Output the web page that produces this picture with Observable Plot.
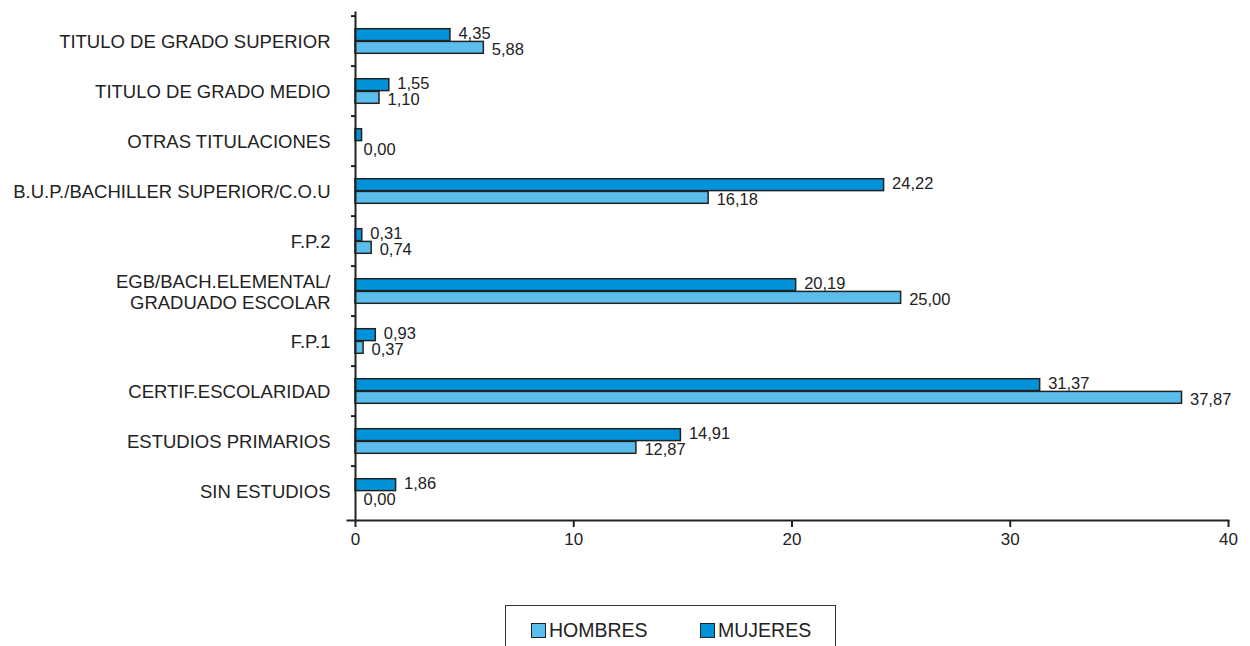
<!DOCTYPE html>
<html>
<head>
<meta charset="utf-8">
<script src="https://cdn.jsdelivr.net/npm/d3@7"></script>
<script src="https://cdn.jsdelivr.net/npm/@observablehq/plot@0.6"></script>
<style>
  html, body { margin: 0; padding: 0; background: #fff; }
  body { width: 1250px; height: 646px; overflow: hidden; font-family: "Liberation Sans", Arial, sans-serif; }
  #legend {
    position: absolute; left: 505px; top: 605px; width: 331px; height: 60px;
    border: 1px solid #333; box-sizing: border-box;
  }
  .item { position: absolute; top: 14px; display: flex; align-items: center; font-size: 19.5px; color: #222; line-height: 20px; }
  .sw { width: 13px; height: 13px; border: 1.5px solid #222; margin-right: 3px; }
</style>
</head>
<body>
<div id="chart"></div>
<div id="legend"></div>
<script>
const categories = [
  "TITULO DE GRADO SUPERIOR",
  "TITULO DE GRADO MEDIO",
  "OTRAS TITULACIONES",
  "B.U.P./BACHILLER SUPERIOR/C.O.U",
  "F.P.2",
  "EGB/BACH.ELEMENTAL/\nGRADUADO ESCOLAR",
  "F.P.1",
  "CERTIF.ESCOLARIDAD",
  "ESTUDIOS PRIMARIOS",
  "SIN ESTUDIOS"
];
const hombres = [5.88, 1.10, 0.00, 16.18, 0.74, 25.00, 0.37, 37.87, 12.87, 0.00];
const mujeres = [4.35, 1.55, 0.30, 24.22, 0.31, 20.19, 0.93, 31.37, 14.91, 1.86];
const hombresLabels = ["5,88", "1,10", "0,00", "16,18", "0,74", "25,00", "0,37", "37,87", "12,87", "0,00"];
const mujeresLabels = ["4,35", "1,55", "", "24,22", "0,31", "20,19", "0,93", "31,37", "14,91", "1,86"];
const xTicks = [0, 10, 20, 30, 40];
const series = ["HOMBRES", "MUJERES"];
const colors = ["#5bbdec", "#0093d9"];

const rowsH = categories.map((c, i) => ({cat: c, v: hombres[i], label: hombresLabels[i]}));
const rowsM = categories.map((c, i) => ({cat: c, v: mujeres[i], label: mujeresLabels[i]}));

const height = 560, marginTop = 12, marginBottom = 40;
const step = (height - marginTop - marginBottom) / categories.length;
const ink = "#222";

const chart = Plot.plot({
  width: 1250,
  height,
  marginTop,
  marginBottom,
  marginLeft: 355,
  marginRight: 22,
  style: {fontFamily: "'Liberation Sans', Arial, sans-serif", color: ink, background: "#fff"},
  x: {domain: [0, 40], label: null},
  y: {domain: categories, padding: 0, label: null},
  marks: [
    Plot.barX(rowsM, {x: "v", y: "cat", fill: colors[1], stroke: ink, strokeWidth: 1.5,
      insetTop: step * 0.25, insetBottom: step * 0.5}),
    Plot.barX(rowsH, {x: "v", y: "cat", fill: colors[0], stroke: ink, strokeWidth: 1.5,
      insetTop: step * 0.5, insetBottom: step * 0.25}),
    Plot.text(rowsM, {x: "v", y: "cat", text: "label", textAnchor: "start", dx: 8, dy: -step * 0.125 - 1,
      fontSize: 16.5, fill: ink}),
    Plot.text(rowsH, {x: "v", y: "cat", text: "label", textAnchor: "start", dx: 8, dy: step * 0.125 + 2,
      fontSize: 16.5, fill: ink}),
    Plot.frame({anchor: "left", stroke: ink, strokeWidth: 2}),
    Plot.frame({anchor: "bottom", stroke: ink, strokeWidth: 2, insetLeft: -8}),
    Plot.axisY({tickSize: 4, text: null, label: null, dy: -step / 2, stroke: ink, strokeWidth: 2}),
    Plot.axisY({tickSize: 0, tickPadding: 25, label: null, fontSize: 18.5, lineHeight: 1.15, fill: ink}),
    Plot.axisX({ticks: xTicks, label: null, tickSize: 7, tickPadding: 5, fontSize: 17, stroke: ink, strokeWidth: 2, fill: ink,
      tickFormat: d => String(d)})
  ]
});
document.getElementById("chart").append(chart);

const legend = document.getElementById("legend");
const lefts = [25, 194];
series.forEach((s, i) => {
  const it = document.createElement("div");
  it.className = "item";
  it.style.left = lefts[i] + "px";
  const sw = document.createElement("div");
  sw.className = "sw";
  sw.style.background = colors[i];
  const t = document.createElement("span");
  t.textContent = s;
  it.append(sw, t);
  legend.append(it);
});
</script>
</body>
</html>
